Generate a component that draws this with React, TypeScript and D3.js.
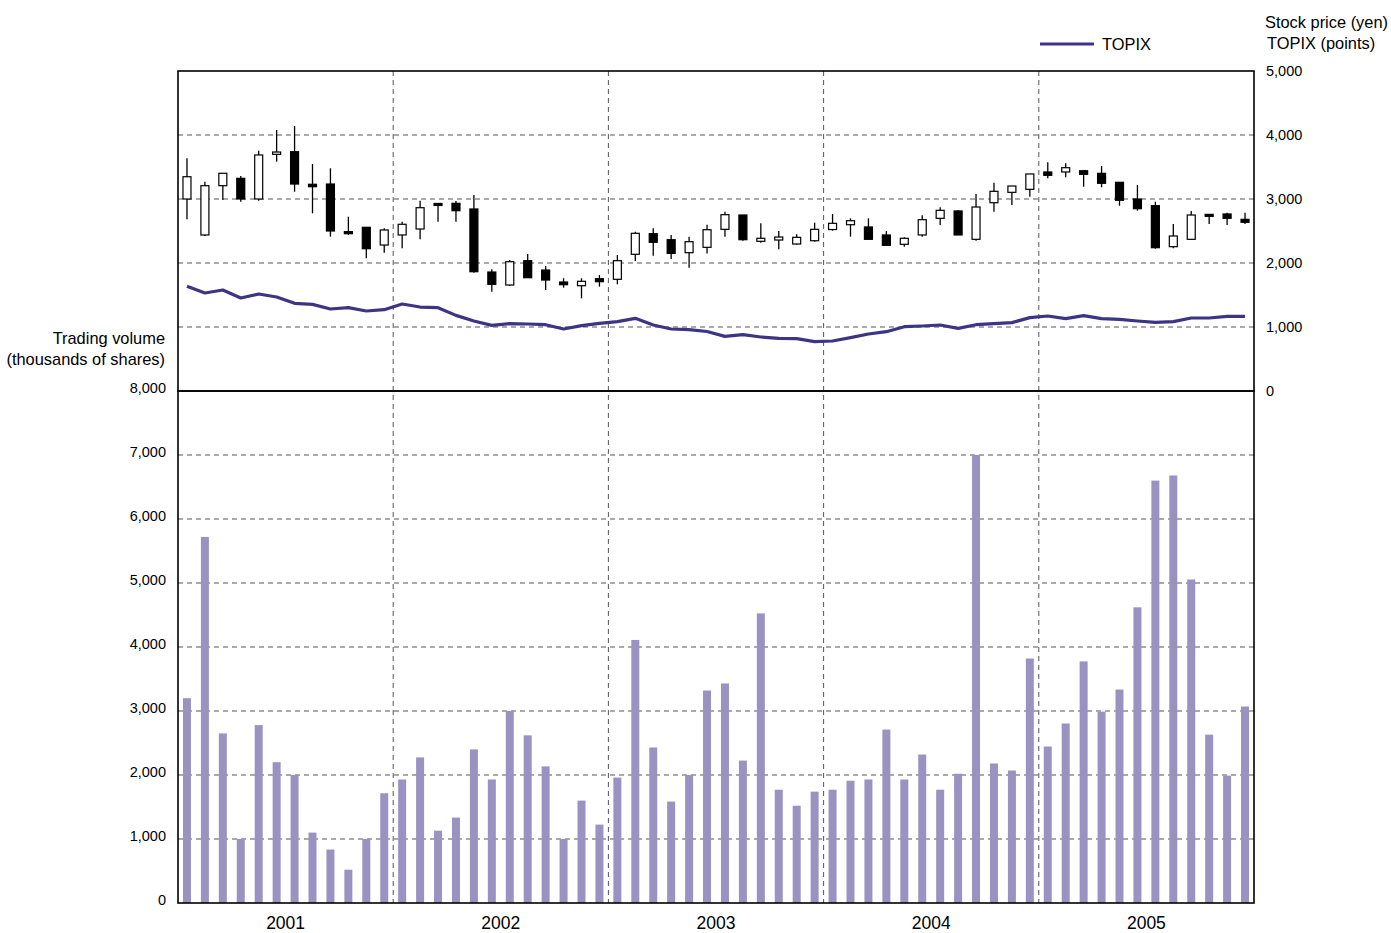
import React from 'react';
import * as d3 from 'd3';

// monthly data, Jan 2001 .. Dec 2005
const years = ['2001', '2002', '2003', '2004', '2005'];

const openPx = [
  3000, 2438, 3208, 3323, 3000, 3698, 3739, 3230, 3234, 2490, 2558, 2281,
  2438, 2531, 2930, 2933, 2844, 1859, 1656, 2036, 1890, 1703, 1645, 1755,
  1745, 2136, 2458, 2364, 2161, 2245, 2526, 2750, 2339, 2359, 2297, 2348,
  2523, 2598, 2563, 2438, 2292, 2438, 2698, 2813, 2370, 2942, 3104, 3151,
  3422, 3422, 3442, 3401, 3261, 3000, 2896, 2255, 2370, 2760, 2766, 2682,
];
const highPx = [
  3636, 3270, 3402, 3359, 3755, 4078, 4140, 3547, 3480, 2723, 2558, 2542,
  2645, 2973, 2938, 2969, 3063, 1902, 2047, 2141, 1953, 1761, 1761, 1813,
  2125, 2489, 2542, 2438, 2411, 2598, 2802, 2750, 2620, 2500, 2448, 2630,
  2766, 2698, 2698, 2500, 2401, 2745, 2870, 2828, 3078, 3255, 3203, 3391,
  3573, 3557, 3442, 3516, 3261, 3219, 2958, 2609, 2813, 2760, 2786, 2786,
];
const lowPx = [
  2683, 2420, 2984, 2958, 2973, 3583, 3114, 2777, 2411, 2438, 2073, 2161,
  2230, 2370, 2645, 2645, 1848, 1552, 1640, 1770, 1578, 1614, 1448, 1630,
  1667, 2031, 2114, 2063, 1927, 2150, 2411, 2348, 2317, 2214, 2286, 2333,
  2505, 2411, 2370, 2276, 2255, 2411, 2594, 2438, 2348, 2802, 2906, 3036,
  3323, 3339, 3192, 3183, 2895, 2817, 2223, 2230, 2370, 2609, 2594, 2609,
];
const closePx = [
  3348, 3208, 3402, 3000, 3688, 3734, 3234, 3192, 2500, 2458, 2223, 2516,
  2605, 2864, 2915, 2817, 1864, 1667, 2020, 1770, 1734, 1661, 1714, 1708,
  2036, 2464, 2323, 2150, 2333, 2520, 2755, 2364, 2386, 2406, 2401, 2526,
  2620, 2661, 2370, 2276, 2386, 2677, 2823, 2438, 2875, 3120, 3203, 3391,
  3370, 3489, 3386, 3245, 2980, 2848, 2239, 2422, 2750, 2745, 2698, 2636,
];
const topix = [
  1635, 1531, 1578, 1453, 1516, 1469, 1370, 1354, 1281, 1302, 1250, 1271,
  1359, 1312, 1302, 1182, 1094, 1026, 1052, 1047, 1036, 969, 1021, 1057,
  1083, 1135, 1031, 969, 958, 930, 854, 880, 844, 823, 818, 771,
  781, 833, 891, 927, 1005, 1016, 1031, 979, 1036, 1052, 1068, 1146,
  1172, 1130, 1177, 1130, 1120, 1094, 1073, 1083, 1141, 1141, 1167, 1167,
];
const volume = [
  3200, 5720, 2650, 1000, 2780, 2200, 2000, 1100, 835, 520, 1000, 1715,
  1930, 2275, 1130, 1335, 2400, 1930, 3000, 2620, 2135, 1000, 1600, 1225,
  1960, 4110, 2430, 1585, 2000, 3320, 3430, 2225, 4525, 1770, 1520, 1740,
  1770, 1910, 1930, 2710, 1930, 2320, 1770, 2020, 7000, 2180, 2070, 3820,
  2445, 2805, 3775, 2990, 3335, 4620, 6600, 6680, 5055, 2630, 1990, 3070,
];
const priceTicks = [0, 1000, 2000, 3000, 4000, 5000];
const volumeTicks = [0, 1000, 2000, 3000, 4000, 5000, 6000, 7000, 8000];

const months = openPx.map((_, i) => `${years[Math.floor(i / 12)]}-${(i % 12) + 1}`);

const W = 1391;
const H = 933;
const left = 178;
const right = 1254;
const top = 71;
const mid = 391;
const bottom = 903;
const font = '"Liberation Sans", Arial, sans-serif';
const gridColor = '#555';

const App = () => {
  const x = d3.scaleBand<string>().domain(months).range([left, right]).padding(0);
  const xYear = d3.scaleBand<string>().domain(years).range([left, right]).padding(0);
  const yPrice = d3.scaleLinear().domain([0, 5000]).range([mid, top]);
  const yVol = d3.scaleLinear().domain([0, 8000]).range([bottom, mid]);
  const cx = (i: number) => (x(months[i]) as number) + x.bandwidth() / 2;
  const bodyW = 8;
  const barW = 8;

  const topixLine = d3
    .line<number>()
    .x((_, i) => cx(i))
    .y((d) => yPrice(d));

  return (
    <svg
      width={W}
      height={H}
      style={{ position: 'absolute', left: 0, top: 0, background: '#fff', fontFamily: font }}
    >
      {/* grid */}
      {priceTicks.slice(1, -1).map((t) => (
        <line key={'pg' + t} x1={left} x2={right} y1={yPrice(t)} y2={yPrice(t)}
          stroke={gridColor} strokeWidth={1} strokeDasharray="5,4" />
      ))}
      {volumeTicks.slice(1, -1).map((t) => (
        <line key={'vg' + t} x1={left} x2={right} y1={yVol(t)} y2={yVol(t)}
          stroke={gridColor} strokeWidth={1} strokeDasharray="5,4" />
      ))}
      {years.slice(1).map((yr) => (
        <line key={'yg' + yr} x1={xYear(yr)} x2={xYear(yr)} y1={top} y2={bottom}
          stroke={gridColor} strokeWidth={1} strokeDasharray="5,4" />
      ))}

      {/* volume bars */}
      {volume.map((v, i) => (
        <rect key={'v' + i} x={cx(i) - barW / 2} y={yVol(v)} width={barW}
          height={yVol(0) - yVol(v)} fill="#9a93c2" />
      ))}

      {/* TOPIX */}
      <path d={topixLine(topix) || ''} fill="none" stroke="#3c3586" strokeWidth={3.2}
        strokeLinejoin="round" />

      {/* candlesticks */}
      {openPx.map((o, i) => {
        const c = closePx[i];
        const up = c >= o;
        const yTop = yPrice(Math.max(o, c));
        const yBot = yPrice(Math.min(o, c));
        const h = Math.max(yBot - yTop, 2);
        return (
          <g key={'c' + i}>
            <line x1={cx(i)} x2={cx(i)} y1={yPrice(highPx[i])} y2={yPrice(lowPx[i])}
              stroke="#000" strokeWidth={1.3} />
            <rect x={cx(i) - bodyW / 2} y={yTop} width={bodyW} height={h}
              fill={up ? '#fff' : '#000'} stroke="#000" strokeWidth={1.2} />
          </g>
        );
      })}

      {/* frames */}
      <rect x={left} y={top} width={right - left} height={mid - top} fill="none"
        stroke="#000" strokeWidth={1.6} />
      <rect x={left} y={mid} width={right - left} height={bottom - mid} fill="none"
        stroke="#000" strokeWidth={1.6} />

      {/* right axis labels */}
      {priceTicks.map((t) => (
        <text key={'pt' + t} x={1266} y={yPrice(t) + 1} fontSize={14.5}
          dominantBaseline="middle" fill="#000">
          {d3.format(',')(t)}
        </text>
      ))}
      {/* left axis labels */}
      {volumeTicks.map((t) => (
        <text key={'vt' + t} x={166} y={yVol(t) - 2} fontSize={14.5} textAnchor="end"
          dominantBaseline="middle" fill="#000">
          {d3.format(',')(t)}
        </text>
      ))}

      {/* year labels */}
      {years.map((yr) => (
        <text key={'yl' + yr} x={(xYear(yr) as number) + xYear.bandwidth() / 2} y={929}
          fontSize={17.5} textAnchor="middle" fill="#000">
          {yr}
        </text>
      ))}

      {/* axis titles */}
      <text x={1265} y={28} fontSize={16.4} fill="#000">Stock price (yen)</text>
      <text x={1267} y={49} fontSize={16.4} fill="#000">TOPIX (points)</text>
      <text x={165} y={344} fontSize={16.4} textAnchor="end" fill="#000">Trading volume</text>
      <text x={165} y={365} fontSize={16.4} textAnchor="end" fill="#000">(thousands of shares)</text>

      {/* legend */}
      <line x1={1040} x2={1094} y1={44} y2={44} stroke="#3c3586" strokeWidth={3.2} />
      <text x={1102} y={50} fontSize={16.4} fill="#000">TOPIX</text>
    </svg>
  );
};

export default App;
